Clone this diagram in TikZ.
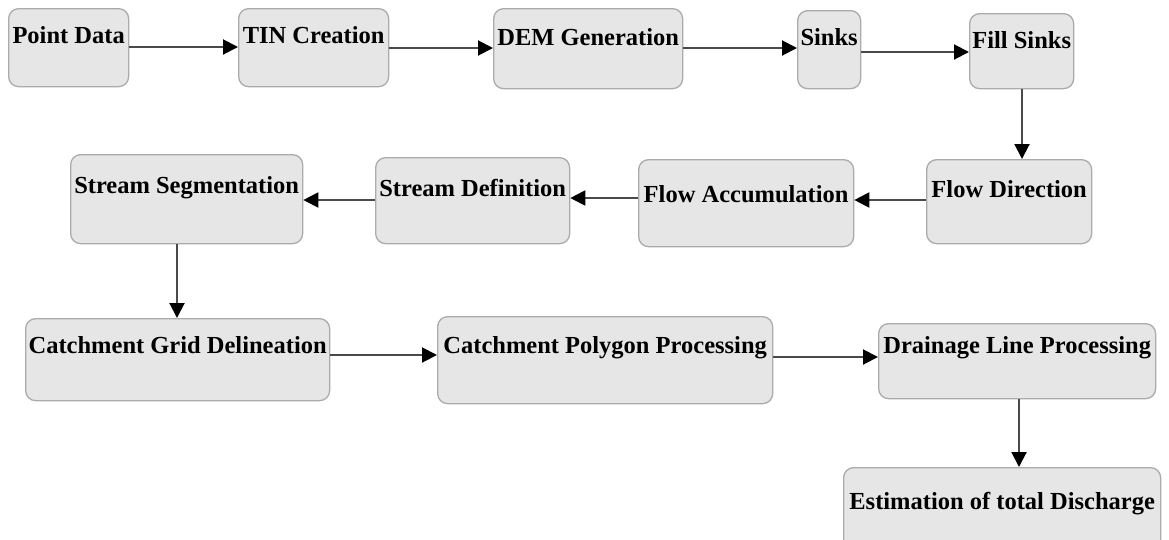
\documentclass[tikz,border=0pt]{standalone}
\usepackage{fontspec}
\setmainfont{Liberation Serif}
\usetikzlibrary{arrows.meta}
\definecolor{boxfill}{HTML}{E6E6E6}
\definecolor{boxline}{HTML}{ABABAB}
\definecolor{arrline}{HTML}{4A4A4A}
\tikzset{
  procbox/.style={draw=boxline, fill=boxfill, line width=1.3pt, rounded corners=10pt, inner sep=0pt, anchor=north west},
  lbl/.style={anchor=base, inner sep=0pt, font=\fontsize{24.5}{28}\selectfont\bfseries},
  arr/.style={draw=arrline, line width=2pt, -{Triangle[length=15pt,width=15pt,fill=black,color=black]}}
}
\begin{document}
\begin{tikzpicture}[x=1pt,y=-1pt]
\useasboundingbox (0,0) rectangle (1169,539);
\fill[white] (0,0) rectangle (1169,539);
% boxes
\node[procbox, minimum width=120, minimum height=78] (pd) at (8,8) {};
\node[procbox, minimum width=150, minimum height=78] (tin) at (238,8) {};
\node[procbox, minimum width=189, minimum height=80] (dem) at (493,8) {};
\node[procbox, minimum width=63, minimum height=78] (sinks) at (797,10) {};
\node[procbox, minimum width=104, minimum height=75] (fill) at (969,13) {};
\node[procbox, minimum width=232, minimum height=89] (ss) at (70,154) {};
\node[procbox, minimum width=194, minimum height=86] (sd) at (375,157) {};
\node[procbox, minimum width=215, minimum height=87] (fa) at (638,159) {};
\node[procbox, minimum width=165, minimum height=84] (fd) at (926,159) {};
\node[procbox, minimum width=304, minimum height=82] (cgd) at (25,318) {};
\node[procbox, minimum width=335, minimum height=87] (cpp) at (437,316) {};
\node[procbox, minimum width=277, minimum height=75] (dlp) at (878,323) {};
\node[procbox, minimum width=317, minimum height=90] (est) at (843,467) {};
% labels
\node[lbl] (pdt) at (pd.north |- 0,43) {Point Data};
\node[lbl] (tint) at (tin.north |- 0,43) {TIN Creation};
\node[lbl] (demt) at (dem.north |- 0,45) {DEM Generation};
\node[lbl] (sinkst) at (sinks.north |- 0,45) {Sinks};
\node[lbl] (fillt) at (fill.north |- 0,48) {Fill Sinks};
\node[lbl] (sst) at (ss.north |- 0,193) {Stream Segmentation};
\node[lbl] (sdt) at (sd.north |- 0,196) {Stream Definition};
\node[lbl] (fat) at (fa.north |- 0,202) {Flow Accumulation};
\node[lbl] (fdt) at (fd.north |- 0,197) {Flow Direction};
\node[lbl] (cgdt) at (cgd.north |- 0,353) {Catchment Grid Delineation};
\node[lbl] (cppt) at (cpp.north |- 0,353) {Catchment Polygon Processing};
\node[lbl] (dlpt) at (dlp.north |- 0,353) {Drainage Line Processing};
\node[lbl] (estt) at (est.north |- 0,509) {Estimation of total Discharge};
% connectors
\draw[arr] (pd.east |- 0,47) -- (tin.west |- 0,47);
\draw[arr] (tin.east |- 0,48) -- (dem.west |- 0,48);
\draw[arr] (dem.east |- 0,48) -- (sinks.west |- 0,48);
\draw[arr] (sinks.east |- 0,52) -- (fill.west |- 0,52);
\draw[arr] (fill.south -| 1022,0) -- (fd.north -| 1022,0);
\draw[arr] (fd.west |- 0,200) -- (fa.east |- 0,200);
\draw[arr] (fa.west |- 0,198) -- (sd.east |- 0,198);
\draw[arr] (sd.west |- 0,200) -- (ss.east |- 0,200);
\draw[arr] (ss.south -| 177,0) -- (cgd.north -| 177,0);
\draw[arr] (cgd.east |- 0,355) -- (cpp.west |- 0,355);
\draw[arr] (cpp.east |- 0,357) -- (dlp.west |- 0,357);
\draw[arr] (dlp.south -| 1019,0) -- (est.north -| 1019,0);
\end{tikzpicture}
\end{document}
